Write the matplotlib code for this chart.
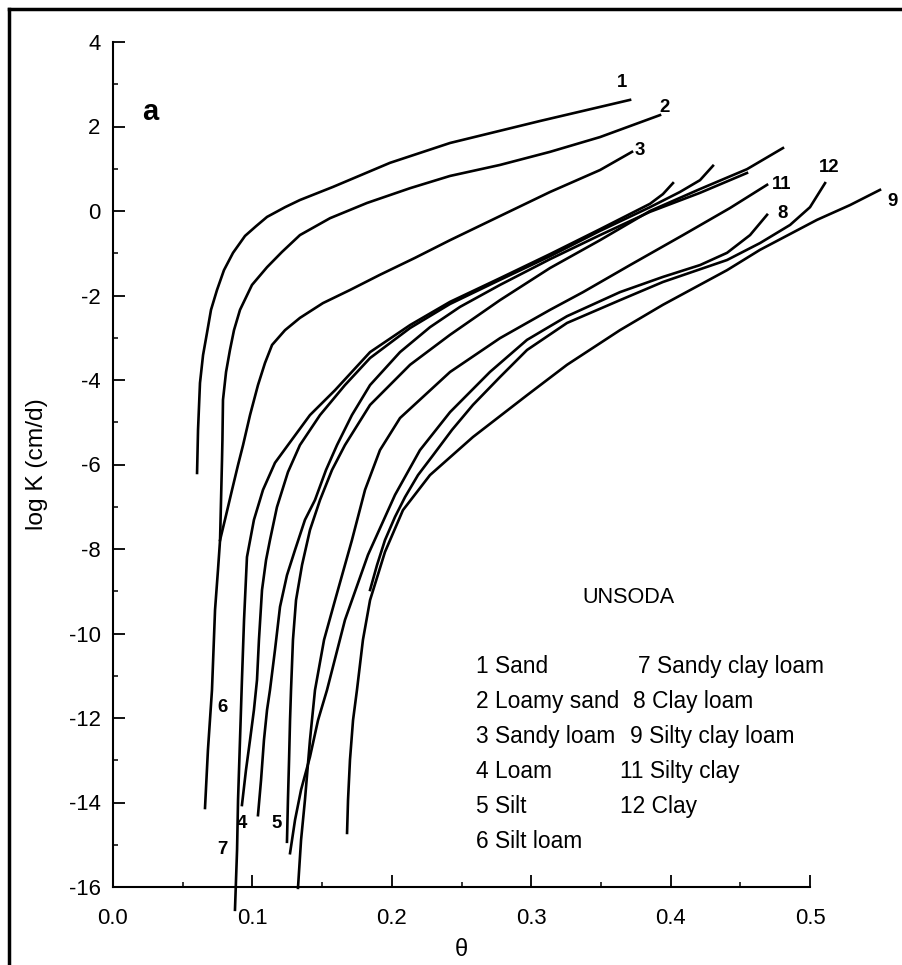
import matplotlib
matplotlib.use("Agg")
import matplotlib.pyplot as plt
from matplotlib.lines import Line2D
from matplotlib import font_manager as fm

# Prefer a narrow sans face; otherwise use Liberation Sans a little smaller
_names = {f.name for f in fm.fontManager.ttflist}
if "Liberation Sans Narrow" in _names:
    plt.rcParams["font.family"] = ["Liberation Sans Narrow", "Liberation Sans", "DejaVu Sans"]
    fs_scale = 1.0
else:
    plt.rcParams["font.family"] = ["Liberation Sans", "DejaVu Sans"]
    fs_scale = 0.84
plt.rcParams["axes.unicode_minus"] = False

# Hydraulic conductivity curves, log K (cm/d) against water content theta
sand_theta = [0.0603, 0.0610, 0.0624, 0.0646, 0.0674, 0.0703, 0.0746, 0.0796, 0.0861, 0.0947, 0.1026, 0.1105,
              0.1234, 0.1341, 0.1578, 0.1987, 0.2418, 0.3063, 0.3709]
sand_logk = [-6.20, -5.18, -4.07, -3.41, -2.89, -2.34, -1.87, -1.40, -0.99, -0.59, -0.36, -0.14,
             0.09, 0.26, 0.57, 1.14, 1.61, 2.13, 2.63]

loamy_sand_theta = [0.0660, 0.0681, 0.0710, 0.0732, 0.0753, 0.0768, 0.0775, 0.0782, 0.0785, 0.0789, 0.0811,
                    0.0839, 0.0868, 0.0911, 0.0997, 0.1105, 0.1212, 0.1341, 0.1557, 0.1822, 0.2131, 0.2418,
                    0.2776, 0.3135, 0.3494, 0.3924]
loamy_sand_logk = [-14.13, -12.76, -11.34, -9.44, -8.50, -7.79, -6.84, -5.89, -5.42, -4.47, -3.81,
                   -3.29, -2.82, -2.34, -1.75, -1.33, -0.97, -0.57, -0.17, 0.19, 0.54, 0.83,
                   1.09, 1.40, 1.75, 2.27]

sandy_loam_theta = [0.0768, 0.0811, 0.0854, 0.0897, 0.0933, 0.0983, 0.1040, 0.1090, 0.1141, 0.1234, 0.1341,
                    0.1506, 0.1700, 0.1915, 0.2166, 0.2418, 0.2776, 0.3135, 0.3494, 0.3723]
sandy_loam_logk = [-7.79, -7.20, -6.60, -6.01, -5.54, -4.83, -4.12, -3.60, -3.17, -2.82, -2.53,
                   -2.18, -1.87, -1.51, -1.11, -0.69, -0.12, 0.45, 0.97, 1.40]

sandy_clay_loam_theta = [0.0875, 0.0890, 0.0897, 0.0911, 0.0925, 0.0940, 0.0961, 0.1011, 0.1076, 0.1162, 0.1255,
                         0.1413, 0.1593, 0.1844, 0.2131, 0.2418, 0.2776, 0.3135, 0.3494, 0.3852, 0.3945, 0.4017]
sandy_clay_loam_logk = [-16.54, -15.12, -13.94, -12.52, -11.10, -9.68, -8.19, -7.31, -6.60, -5.96, -5.54,
                        -4.83, -4.24, -3.34, -2.70, -2.15, -1.59, -1.02, -0.43, 0.17, 0.40, 0.66]

loam_theta = [0.0925, 0.0954, 0.0983, 0.1011, 0.1033, 0.1047, 0.1069, 0.1098, 0.1126, 0.1176, 0.1255, 0.1341,
              0.1485, 0.1664, 0.1844, 0.2131, 0.2418, 0.2776, 0.3135, 0.3494, 0.3852, 0.4067, 0.4211, 0.4304]
loam_logk = [-14.06, -13.23, -12.52, -11.81, -11.10, -10.15, -8.97, -8.26, -7.79, -7.01, -6.18, -5.54,
             -4.83, -4.12, -3.48, -2.77, -2.20, -1.63, -1.07, -0.47, 0.09, 0.45, 0.73, 1.07]

silt_loam_theta = [0.1040, 0.1062, 0.1083, 0.1105, 0.1126, 0.1162, 0.1198, 0.1248, 0.1306, 0.1377, 0.1449, 0.1528,
                   0.1607, 0.1714, 0.1844, 0.2059, 0.2274, 0.2489, 0.2776, 0.3135, 0.3494, 0.3852, 0.4211, 0.4548]
silt_loam_logk = [-14.30, -13.47, -12.52, -11.81, -11.34, -10.39, -9.37, -8.62, -8.02, -7.31, -6.84, -6.13,
                  -5.54, -4.83, -4.12, -3.34, -2.75, -2.27, -1.75, -1.14, -0.57, -0.02, 0.43, 0.90]

silt_theta = [0.1248, 0.1255, 0.1263, 0.1270, 0.1277, 0.1291, 0.1313, 0.1356, 0.1413, 0.1485, 0.1571, 0.1664,
              0.1844, 0.2131, 0.2418, 0.2776, 0.3135, 0.3494, 0.3852, 0.4211, 0.4548, 0.4806]
silt_logk = [-14.93, -13.94, -12.99, -12.05, -11.34, -10.15, -9.21, -8.38, -7.55, -6.84, -6.13, -5.54,
             -4.59, -3.64, -2.93, -2.11, -1.35, -0.69, 0.00, 0.52, 0.99, 1.49]

silty_clay_theta = [0.1327, 0.1349, 0.1377, 0.1413, 0.1449, 0.1514, 0.1593, 0.1714, 0.1808, 0.1915, 0.2059,
                    0.2418, 0.2776, 0.3135, 0.3372, 0.3709, 0.4089, 0.4426, 0.4692]
silty_clay_logk = [-16.02, -14.89, -13.94, -12.52, -11.34, -10.15, -9.21, -7.79, -6.60, -5.66, -4.90,
                   -3.81, -3.01, -2.34, -1.92, -1.28, -0.57, 0.07, 0.62]

clay_loam_theta = [0.1270, 0.1306, 0.1349, 0.1413, 0.1471, 0.1535, 0.1664, 0.1829, 0.2023, 0.2202, 0.2418,
                   0.2704, 0.2970, 0.3257, 0.3637, 0.3945, 0.4211, 0.4405, 0.4570, 0.4692]
clay_loam_logk = [-15.20, -14.41, -13.70, -12.92, -12.05, -11.34, -9.68, -8.14, -6.72, -5.66, -4.76,
                  -3.81, -3.05, -2.49, -1.92, -1.56, -1.28, -0.99, -0.57, -0.09]

clay_theta = [0.1844, 0.1894, 0.1951, 0.2023, 0.2095, 0.2188, 0.2296, 0.2432, 0.2582, 0.2776, 0.2970,
              0.3257, 0.3637, 0.3945, 0.4405, 0.4641, 0.4857, 0.5000, 0.5108]
clay_logk = [-8.97, -8.38, -7.79, -7.24, -6.77, -6.25, -5.78, -5.18, -4.59, -3.93, -3.29,
             -2.65, -2.11, -1.68, -1.16, -0.76, -0.33, 0.09, 0.66]

silty_clay_loam_theta = [0.1679, 0.1686, 0.1700, 0.1722, 0.1750, 0.1793, 0.1844, 0.1951, 0.2080, 0.2274, 0.2582,
                         0.2970, 0.3257, 0.3637, 0.3945, 0.4405, 0.4641, 0.5050, 0.5287, 0.5502]
silty_clay_loam_logk = [-14.72, -13.94, -12.99, -12.05, -11.34, -10.15, -9.21, -8.07, -7.08, -6.25, -5.35,
                        -4.36, -3.64, -2.82, -2.22, -1.40, -0.92, -0.21, 0.14, 0.50]

curves = [
    (sand_theta, sand_logk),
    (loamy_sand_theta, loamy_sand_logk),
    (sandy_loam_theta, sandy_loam_logk),
    (sandy_clay_loam_theta, sandy_clay_loam_logk),
    (loam_theta, loam_logk),
    (silt_loam_theta, silt_loam_logk),
    (silt_theta, silt_logk),
    (silty_clay_theta, silty_clay_logk),
    (clay_loam_theta, clay_loam_logk),
    (clay_theta, clay_logk),
    (silty_clay_loam_theta, silty_clay_loam_logk),
]

# Curve numbers written next to the ends of the lines
curve_numbers = ["1", "2", "3", "11", "12", "8", "9", "6", "4", "7", "5"]
number_theta = [0.3651, 0.3960, 0.3780, 0.4800, 0.5140, 0.4800, 0.5590, 0.0782, 0.0925, 0.0782, 0.1176]
number_logk = [3.03, 2.46, 1.44, 0.62, 1.04, -0.05, 0.22, -11.74, -14.49, -15.12, -14.49]

legend_left = ["1 Sand", "2 Loamy sand", "3 Sandy loam", "4 Loam", "5 Silt", "6 Silt loam"]
legend_right = ["7 Sandy clay loam", "8 Clay loam", "9 Silty clay loam", "11 Silty clay", "12 Clay"]
legend_right_theta = [0.3766, 0.3730, 0.3709, 0.3637, 0.3637]

fig = plt.figure(figsize=(9.02, 9.65), dpi=100)
ax = fig.add_axes([113 / 902, 1 - 887 / 965, (810 - 113) / 902, (887 - 42) / 965])

for th, lk in curves:
    ax.plot(th, lk, color="black", lw=1.9, solid_joinstyle="round", clip_on=False)

ax.set_xlim(0.0, 0.5)
ax.set_ylim(-16, 4)
ax.set_xticks([0.0, 0.1, 0.2, 0.3, 0.4, 0.5])
ax.set_xticklabels(["0.0", "0.1", "0.2", "0.3", "0.4", "0.5"])
ax.set_xticks([0.05, 0.15, 0.25, 0.35, 0.45], minor=True)
ax.set_yticks(list(range(-16, 5, 2)))
ax.set_yticks(list(range(-15, 4, 2)), minor=True)
ax.tick_params(which="major", direction="in", length=8.5, width=1.3, labelsize=19 * fs_scale)
ax.tick_params(axis="x", which="major", pad=15)
ax.tick_params(axis="y", which="major", pad=9)
ax.tick_params(which="minor", direction="in", length=3.5, width=1.1)
for side in ("top", "right"):
    ax.spines[side].set_visible(False)
for side in ("left", "bottom"):
    ax.spines[side].set_linewidth(1.5)

ax.set_ylabel("log K (cm/d)", fontsize=21 * fs_scale, labelpad=15)
ax.set_xlabel("θ", fontsize=17, labelpad=7)

for t, x, y in zip(curve_numbers, number_theta, number_logk):
    ax.text(x, y, t, fontsize=16 * fs_scale, fontweight="bold", ha="center", va="center", clip_on=False)

ax.text(0.0265, 2.34, "a", fontsize=21, fontweight="bold", ha="center", va="center")
ax.text(0.3694, -9.14, "UNSODA", fontsize=18.5 * fs_scale, ha="center", va="center")

row_step = 35 / 42.25
for i, t in enumerate(legend_left):
    ax.text(0.2604, -10.79 - i * row_step, t, fontsize=19.5 * fs_scale, ha="left", va="center")
for i, (t, x) in enumerate(zip(legend_right, legend_right_theta)):
    ax.text(x, -10.79 - i * row_step, t, fontsize=19.5 * fs_scale, ha="left", va="center")

# Scan frame along the top and left edges
fig.add_artist(Line2D([9 / 902, 1.0], [1 - 9 / 965, 1 - 9 / 965], transform=fig.transFigure, color="black", lw=2.5))
fig.add_artist(Line2D([9 / 902, 9 / 902], [0.0, 1 - 9 / 965], transform=fig.transFigure, color="black", lw=2.5))

fig.savefig("out.png", dpi=100)
